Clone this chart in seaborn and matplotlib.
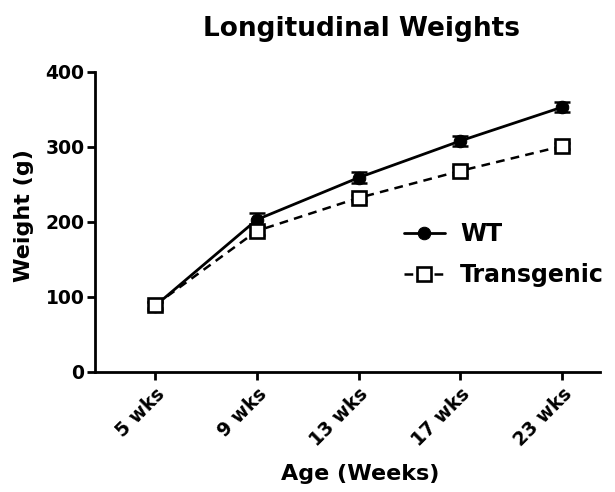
import pandas as pd
import numpy as np
import matplotlib
matplotlib.use("Agg")
import matplotlib.pyplot as plt
import seaborn as sns

# Data
ages = ["5 wks", "9 wks", "13 wks", "17 wks", "23 wks"]
wt_mean = [88, 203, 259, 308, 353]
wt_sem = [5, 9, 7, 7, 7]
tg_mean = [89, 188, 232, 268, 301]
tg_sem = [4, 5, 4, 5, 4]

df = pd.DataFrame({
    "age": ages * 2,
    "weight": wt_mean + tg_mean,
    "group": ["WT"] * len(ages) + ["Transgenic"] * len(ages),
})

sns.set_style("ticks")
plt.rcParams['font.family'] = ['DejaVu Sans']
plt.rcParams['font.weight'] = 'bold'
plt.rcParams['text.color'] = 'black'
plt.rcParams['axes.labelcolor'] = 'black'
plt.rcParams['xtick.color'] = 'black'
plt.rcParams['ytick.color'] = 'black'
plt.rcParams['axes.edgecolor'] = 'black'

fig = plt.figure(figsize=(6.15, 4.92), dpi=100)
ax = fig.add_axes([0.1545, 0.244, 0.821, 0.61])

# WT line
sns.lineplot(data=df[df.group == "WT"], x="age", y="weight", ax=ax,
             color="black", linewidth=2, marker="o", markersize=9,
             markerfacecolor="black", markeredgecolor="black", label="WT",
             sort=False)
# Transgenic line
sns.lineplot(data=df[df.group == "Transgenic"], x="age", y="weight", ax=ax,
             color="black", linewidth=1.8, linestyle=(0, (3.5, 2.5)), marker="s",
             markersize=9.5, markerfacecolor="white", markeredgecolor="black",
             markeredgewidth=1.9, label="Transgenic", sort=False)

# error bars
xs = np.arange(len(ages))
ax.errorbar(xs, wt_mean, yerr=wt_sem, fmt="none", ecolor="black",
            elinewidth=1.8, capsize=6, capthick=1.8, zorder=1)
ax.errorbar(xs, tg_mean, yerr=tg_sem, fmt="none", ecolor="black",
            elinewidth=1.8, capsize=6, capthick=1.8, zorder=1)

ax.set_ylim(0, 400)
ax.set_xlim(-0.59, 4.37)
ax.set_yticks([0, 100, 200, 300, 400])
sns.despine(ax=ax)
for s in ["left", "bottom"]:
    ax.spines[s].set_linewidth(2)
ax.tick_params(width=2, length=6, labelsize=13.5)
ax.tick_params(axis="y", pad=1.5)
ax.tick_params(axis="x", pad=3)
plt.setp(ax.get_xticklabels(), rotation=45, ha="right", rotation_mode="anchor",
         fontweight="bold")
plt.setp(ax.get_yticklabels(), fontweight="bold")

ax.set_xlabel("Age (Weeks)", fontsize=16, fontweight="bold", labelpad=10, x=0.525)
ax.set_ylabel("Weight (g)", fontsize=16, fontweight="bold", labelpad=8, y=0.52)
fig.suptitle("Longitudinal Weights", fontsize=19, fontweight="bold", x=0.587, y=0.967)

ax.legend(loc="center left", bbox_to_anchor=(0.569, 0.392), frameon=False,
          prop={"size": 17, "weight": "bold"}, handlelength=1.75,
          handletextpad=0.65, labelspacing=0.72)

fig.savefig("out.png", dpi=100)
